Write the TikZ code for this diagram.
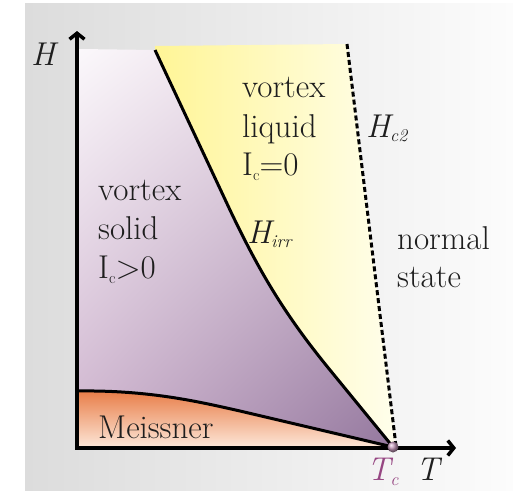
\documentclass[tikz,border=0pt]{standalone}
\usetikzlibrary{arrows.meta,shadings}
\definecolor{bgl}{RGB}{220,220,220}
\definecolor{bgr}{RGB}{252,252,252}
\definecolor{pUL}{RGB}{251,248,251}
\definecolor{pUR}{RGB}{225,205,222}
\definecolor{pLL}{RGB}{205,178,205}
\definecolor{pLR}{RGB}{148,120,158}
\definecolor{yL}{RGB}{255,245,150}
\definecolor{yR}{RGB}{255,254,236}
\definecolor{oT}{RGB}{232,124,70}
\definecolor{oB}{RGB}{253,232,218}
\definecolor{tcc}{RGB}{150,70,130}
\definecolor{txt}{RGB}{30,30,30}
\begin{document}
\begin{tikzpicture}[x=1pt,y=-1pt,
  lbl/.style={font=\fontsize{33}{38}\selectfont, inner sep=0pt, anchor=base west, text=txt},
  ital/.style={font=\fontsize{33}{38}\selectfont\itshape, inner sep=0pt, anchor=base west, text=txt},
  curve/.style={line width=3pt, black, line join=round},
  axis/.style={line width=3.5pt, black, -{Straight Barb[length=6pt,width=15pt]}},
]
\useasboundingbox (0,0) rectangle (513,490);
\shade[left color=bgl, right color=bgr] (25,3) rectangle (513,490);

% purple region (vortex solid)
\shade[upper left=pUL, upper right=pUR, lower left=pLL, lower right=pLR]
  (79,49) -- (155,50) -- (230,210) .. controls (260,273) and (285,315) .. (330,370) -- (393,447)
  -- (240,411) .. controls (200,402) and (150,390) .. (79,391) -- cycle;

% yellow region (vortex liquid)
\shade[left color=yL, right color=yR]
  (155,46) -- (347,44) -- (396,447) -- (393,447) -- (330,370)
  .. controls (285,315) and (260,273) .. (230,210) -- (155,50) -- cycle;

% Meissner region
\shade[top color=oT, bottom color=oB]
  (79,391) .. controls (150,390) and (200,402) .. (240,411) -- (393,447) -- (79,448) -- cycle;

% boundaries
\coordinate (Ia) at (155,50);
\coordinate (Tc) at (393,447);
\coordinate (Da) at (347,44);
\coordinate (Db) at (396,446);
\coordinate (Ma) at (78,391);
\draw[curve] (Ia) -- (230,210) .. controls (260,273) and (285,315) .. (330,370) -- (Tc);
\draw[curve] (Ma) .. controls (150,390) and (200,402) .. (240,411) -- (Tc);
\draw[line width=3pt, dash pattern=on 5pt off 3pt] (Da) -- (Db);

% axes
\coordinate (O) at (77,448);
\coordinate (Htop) at (77,31);
\coordinate (Tend) at (456,448);
\draw[axis] ([yshift=1.75pt]O) -- (Htop);
\draw[axis] ([xshift=-1.75pt]O) -- (Tend);

% Tc point
\shade[ball color=tcc!55] (Tc) circle (5.5);

% labels
\node[ital] (H) at (31,65) {H};
\node[ital] (T) at (416,480) {T};
\node[ital, text=tcc] (TcL) at (367,480) {T\raisebox{-0.4ex}{\fontsize{18}{18}\selectfont c}};
\node[ital] (Hc2) at (366,137) {H\raisebox{-0.35ex}{\fontsize{18}{18}\selectfont c2}};
\node[ital] (Hirr) at (247,243) {H\raisebox{-0.35ex}{\fontsize{18}{18}\selectfont irr}};

\node[lbl] (vl1) at (242,97) {vortex};
\node[lbl] (vl2) at (242,137) {liquid};
\node[lbl] (vl3) at (242,175) {I\raisebox{-0.4ex}{\fontsize{16}{16}\selectfont c}=0};

\node[lbl] (vs1) at (98,200) {vortex};
\node[lbl] (vs2) at (98,239) {solid};
\node[lbl] (vs3) at (98,278) {I\raisebox{-0.4ex}{\fontsize{16}{16}\selectfont c}>0};

\node[lbl] (ns1) at (397,249) {normal};
\node[lbl] (ns2) at (397,287) {state};

\node[lbl] (me) at (98,438) {Meissner};
\end{tikzpicture}
\end{document}
